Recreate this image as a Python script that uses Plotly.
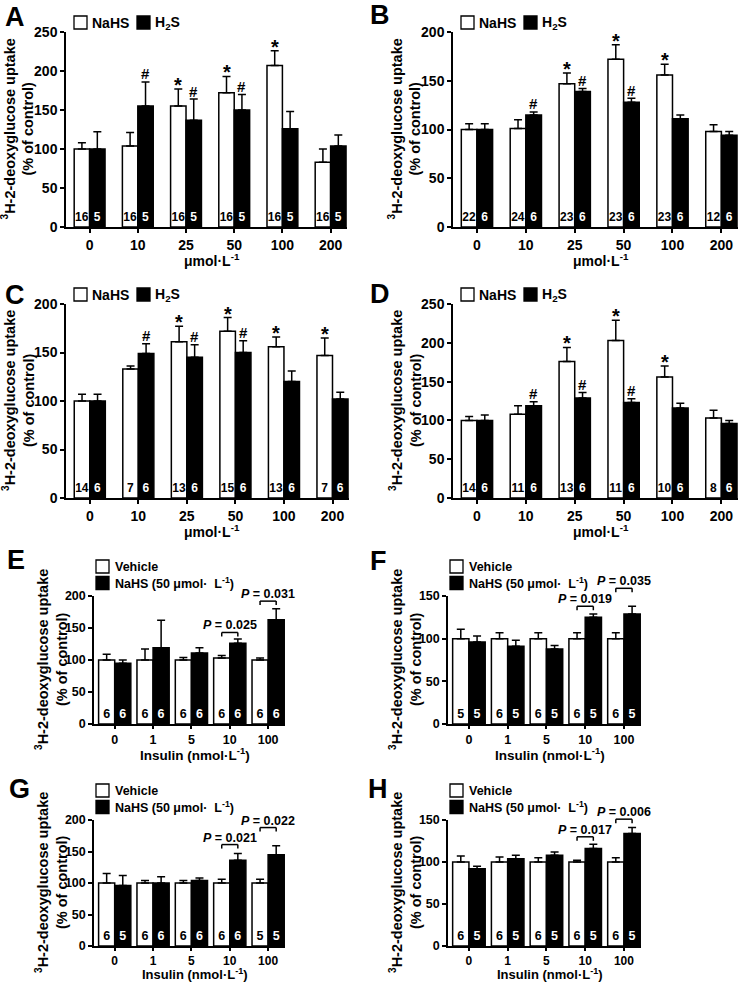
import plotly.graph_objects as go

W, H = 745, 982
FONT = "Liberation Sans, Arial, sans-serif"

# ---------------- data ----------------
conc_labels = ["0", "10", "25", "50", "100", "200"]
insulin_labels = ["0", "1", "5", "10", "100"]

# Panel A
A_nahs = [100, 104, 155, 172, 207, 83]
A_nahs_err = [8, 17, 22, 21, 19, 17]
A_h2s = [100, 155, 137, 150, 126, 104]
A_h2s_err = [22, 31, 27, 20, 22, 14]
A_nahs_n = [16, 16, 16, 16, 16, 16]
A_h2s_n = [5, 5, 5, 5, 5, 5]
A_star = [2, 3, 4]
A_hash = [1, 2, 3]

# Panel B
B_nahs = [100, 101, 147, 172, 156, 98]
B_nahs_err = [6, 9, 11, 15, 11, 7]
B_h2s = [100, 115, 139, 128, 111, 94]
B_h2s_err = [6, 3, 3, 4, 4, 4]
B_nahs_n = [22, 24, 23, 23, 23, 12]
B_h2s_n = [6, 6, 6, 6, 6, 6]
B_star = [2, 3, 4]
B_hash = [1, 2, 3]

# Panel C
C_nahs = [100, 133, 161, 172, 156, 147]
C_nahs_err = [7, 3, 16, 14, 10, 18]
C_h2s = [100, 149, 145, 150, 120, 102]
C_h2s_err = [7, 10, 13, 12, 11, 7]
C_nahs_n = [14, 7, 13, 15, 13, 7]
C_h2s_n = [6, 6, 6, 6, 6, 6]
C_star = [2, 3, 4, 5]
C_hash = [1, 2, 3]

# Panel D
D_nahs = [100, 108, 176, 203, 156, 103]
D_nahs_err = [5, 11, 18, 26, 14, 10]
D_h2s = [100, 119, 129, 123, 116, 96]
D_h2s_err = [7, 5, 7, 5, 6, 4]
D_nahs_n = [14, 11, 13, 11, 10, 8]
D_h2s_n = [6, 6, 6, 6, 6, 6]
D_star = [2, 3, 4]
D_hash = [1, 2, 3]

# Panel E
E_veh = [100, 100, 100, 103, 100]
E_veh_err = [9, 17, 4, 4, 3]
E_nahs = [95, 119, 111, 126, 163]
E_nahs_err = [5, 43, 8, 7, 17]
E_veh_n = [6, 6, 6, 6, 6]
E_nahs_n = [6, 6, 6, 6, 6]
E_p_idx = [3, 4]
E_p_text = ["0.025", "0.031"]
E_p_level = [143, 192]

# Panel F
F_veh = [100, 100, 100, 100, 100]
F_veh_err = [11, 7, 7, 7, 7]
F_nahs = [96, 91, 88, 125, 129]
F_nahs_err = [7, 7, 4, 4, 9]
F_veh_n = [5, 6, 6, 6, 6]
F_nahs_n = [5, 5, 5, 5, 5]
F_p_idx = [3, 4]
F_p_text = ["0.019", "0.035"]
F_p_level = [138, 159]

# Panel G
G_veh = [100, 100, 100, 100, 100]
G_veh_err = [15, 4, 4, 6, 6]
G_nahs = [96, 100, 104, 136, 145]
G_nahs_err = [16, 10, 4, 11, 14]
G_veh_n = [6, 6, 6, 6, 5]
G_nahs_n = [5, 6, 6, 6, 5]
G_p_idx = [3, 4]
G_p_text = ["0.021", "0.022"]
G_p_level = [161, 188]

# Panel H
H_veh = [100, 100, 100, 100, 100]
H_veh_err = [7, 6, 5, 2, 5]
H_nahs = [92, 104, 108, 116, 134]
H_nahs_err = [3, 4, 4, 5, 7]
H_veh_n = [6, 6, 6, 6, 6]
H_nahs_n = [5, 5, 5, 5, 5]
H_p_idx = [3, 4]
H_p_text = ["0.017", "0.006"]
H_p_level = [130, 151]

# ---------------- panel configuration ----------------
YTITLE = "<sup>3</sup>H-2-deoxyglucose uptake<br>(% of control)"
CONC_TITLE = "\u03bcmol\u00b7L<sup>-1</sup>"
INS_TITLE = "Insulin (nmol\u00b7L<sup>-1</sup>)"

panels = [
    dict(letter="A", cats=conc_labels, s1=(A_nahs, A_nahs_err, A_nahs_n), s2=(A_h2s, A_h2s_err, A_h2s_n),
         ymax=250, star=A_star, hash=A_hash, p=None, box=(66, 347, 32, 227), kind="conc", lpos=(15, 17),
         xt=33, tf=14, xf=14),
    dict(letter="B", cats=conc_labels, s1=(B_nahs, B_nahs_err, B_nahs_n), s2=(B_h2s, B_h2s_err, B_h2s_n),
         ymax=200, star=B_star, hash=B_hash, p=None, box=(453, 738, 32, 227), kind="conc", lpos=(380, 15),
         xt=33, tf=14, xf=14),
    dict(letter="C", cats=conc_labels, s1=(C_nahs, C_nahs_err, C_nahs_n), s2=(C_h2s, C_h2s_err, C_h2s_n),
         ymax=200, star=C_star, hash=C_hash, p=None, box=(66, 349, 304, 498), kind="conc", lpos=(15, 295),
         xt=33, tf=14, xf=14),
    dict(letter="D", cats=conc_labels, s1=(D_nahs, D_nahs_err, D_nahs_n), s2=(D_h2s, D_h2s_err, D_h2s_n),
         ymax=250, star=D_star, hash=D_hash, p=None, box=(453, 738, 304, 498), kind="conc", lpos=(380, 294),
         xt=33, tf=14, xf=14),
    dict(letter="E", cats=insulin_labels, s1=(E_veh, E_veh_err, E_veh_n), s2=(E_nahs, E_nahs_err, E_nahs_n),
         ymax=200, star=[], hash=[], p=(E_p_idx, E_p_text, E_p_level), box=(94, 285, 596, 724), kind="ins",
         lpos=(16, 560), xt=30, tf=12.5, xf=13.5),
    dict(letter="F", cats=insulin_labels, s1=(F_veh, F_veh_err, F_veh_n), s2=(F_nahs, F_nahs_err, F_nahs_n),
         ymax=150, star=[], hash=[], p=(F_p_idx, F_p_text, F_p_level), box=(448, 641, 596, 724), kind="ins",
         lpos=(378, 561), xt=30, tf=12.5, xf=13.5),
    dict(letter="G", cats=insulin_labels, s1=(G_veh, G_veh_err, G_veh_n), s2=(G_nahs, G_nahs_err, G_nahs_n),
         ymax=200, star=[], hash=[], p=(G_p_idx, G_p_text, G_p_level), box=(94, 285, 820, 946), kind="ins",
         lpos=(19, 789), xt=28, tf=12, xf=13),
    dict(letter="H", cats=insulin_labels, s1=(H_veh, H_veh_err, H_veh_n), s2=(H_nahs, H_nahs_err, H_nahs_n),
         ymax=150, star=[], hash=[], p=(H_p_idx, H_p_text, H_p_level), box=(448, 641, 820, 946), kind="ins",
         lpos=(378, 789), xt=28, tf=12, xf=13),
]


def px(x):
    return x / W


def py(y):
    return 1 - y / H


def f(size, color="black"):
    return dict(family=FONT, size=size, color=color, weight="bold")


fig = go.Figure()
layout = dict(
    width=W, height=H, margin=dict(l=0, r=0, t=0, b=0, autoexpand=False),
    paper_bgcolor="white", plot_bgcolor="white",
    font=f(14), barmode="overlay", showlegend=False,
)
annotations = []
shapes = []

for k, P in enumerate(panels):
    i = k + 1
    xa, ya = f"x{i}", f"y{i}"
    xkey, ykey = ("xaxis" if i == 1 else f"xaxis{i}"), ("yaxis" if i == 1 else f"yaxis{i}")
    x0, x1, y0, y1 = P["box"]
    conc = P["kind"] == "conc"
    w = 0.32 if conc else 0.42
    rng = [-0.49, 5.34] if conc else [-0.54, 4.44]
    ncat = len(P["cats"])
    nfont = 12 if conc else 12.5

    for sidx, (vals, errs, ns) in enumerate([P["s1"], P["s2"]]):
        fill = "white" if sidx == 0 else "black"
        tcol = "black" if sidx == 0 else "white"
        fig.add_trace(go.Bar(
            x=P["cats"], y=vals, offset=-w if sidx == 0 else 0, width=w,
            marker=dict(color=fill, line=dict(color="black", width=1.5)),
            error_y=dict(type="data", symmetric=False, array=errs, arrayminus=[0] * ncat,
                         color="black", thickness=1.5, width=4),
            text=[str(n) for n in ns], textposition="inside", insidetextanchor="start",
            constraintext="none", textangle=0, insidetextfont=f(nfont, tcol), cliponaxis=False,
            xaxis=xa, yaxis=ya, hoverinfo="skip",
        ))

    axis_common = dict(showline=True, linecolor="black", linewidth=1.5, ticks="outside",
                       tickwidth=1.5, tickcolor="black", showgrid=False,
                       zeroline=False, fixedrange=True, automargin=False)
    layout[xkey] = dict(domain=[px(x0), px(x1)], range=rng, type="category", anchor=ya,
                        ticklen=4 if conc else 3, tickfont=f(P["tf"]), **axis_common)
    layout[ykey] = dict(domain=[py(y1), py(y0)], range=[0, P["ymax"]], tick0=0, dtick=50,
                        anchor=xa, ticklen=4, tickfont=f(14 if conc else 12.5), **axis_common)

    # significance markers
    vals1, errs1, _ = P["s1"]
    vals2, errs2, _ = P["s2"]
    for j in P["star"]:
        annotations.append(dict(xref=xa, yref=ya, x=j - w / 2, y=vals1[j] + errs1[j], text="*",
                                showarrow=False, yanchor="middle", yshift=4, font=f(20)))
    for j in P["hash"]:
        annotations.append(dict(xref=xa, yref=ya, x=j + w / 2, y=vals2[j] + errs2[j], text="#",
                                showarrow=False, yanchor="middle", yshift=8, font=f(15)))

    # P-value brackets
    if P["p"]:
        for j, ptxt, lvl in zip(*P["p"]):
            frac = lvl / P["ymax"]
            xl, xr = j - w / 2, j + w / 2
            common = dict(type="line", xref=xa, yref=f"{ya} domain", ysizemode="pixel", yanchor=frac,
                          line=dict(color="black", width=1.5))
            shapes.append(dict(x0=xl, x1=xr, y0=0, y1=0, **common))
            shapes.append(dict(x0=xl, x1=xl, y0=-4, y1=0, **common))
            shapes.append(dict(x0=xr, x1=xr, y0=-4, y1=0, **common))
            annotations.append(dict(xref=xa, yref=f"{ya} domain", x=j, y=frac, text=f"<i>P</i> = {ptxt}",
                                    showarrow=False, yanchor="bottom", yshift=-2, font=f(12.5)))

    # panel letter
    annotations.append(dict(xref="paper", yref="paper", x=px(P["lpos"][0]), y=py(P["lpos"][1]),
                            text=P["letter"], showarrow=False, xanchor="center", yanchor="middle",
                            font=f(27)))
    # y title
    yt_off = 48 if conc else 43
    annotations.append(dict(xref="paper", yref="paper", x=px(x0 - yt_off), y=py((y0 + y1) / 2),
                            text=YTITLE, textangle=-90, showarrow=False, xanchor="center",
                            yanchor="middle", font=f(14.5)))
    # x title
    annotations.append(dict(xref="paper", yref="paper", x=px((x0 + x1) / 2 + 5), y=py(y1 + P["xt"]),
                            text=CONC_TITLE if conc else INS_TITLE, showarrow=False,
                            xanchor="center", yanchor="middle", font=f(P["xf"])))

    # legend
    if conc:
        items = [("NaHS", "white", 8, 24, y0 - 9.5), ("H<sub>2</sub>S", "black", 71, 87, y0 - 9.5)]
        sq, lf = 13, 14
    else:
        items = [("Vehicle", "white", 2, 19, y0 - 29.5),
                 ("NaHS (50 \u03bcmol\u00b7  L<sup>-1</sup>)", "black", 2, 19, y0 - 13)]
        sq, lf = 13, 12.5
    for label, fill, sx, tx, cy in items:
        shapes.append(dict(type="rect", xref="paper", yref="paper",
                           x0=px(x0 + sx), x1=px(x0 + sx + sq), y0=py(cy + sq / 2), y1=py(cy - sq / 2),
                           fillcolor=fill, line=dict(color="black", width=1.3)))
        annotations.append(dict(xref="paper", yref="paper", x=px(x0 + tx), y=py(cy), text=label,
                                showarrow=False, xanchor="left", yanchor="middle", font=f(lf)))

layout["annotations"] = annotations
layout["shapes"] = shapes
fig.update_layout(**layout)
fig.write_html("out.html", config={"displayModeBar": False},
               post_script="document.body.style.margin='0px';")
